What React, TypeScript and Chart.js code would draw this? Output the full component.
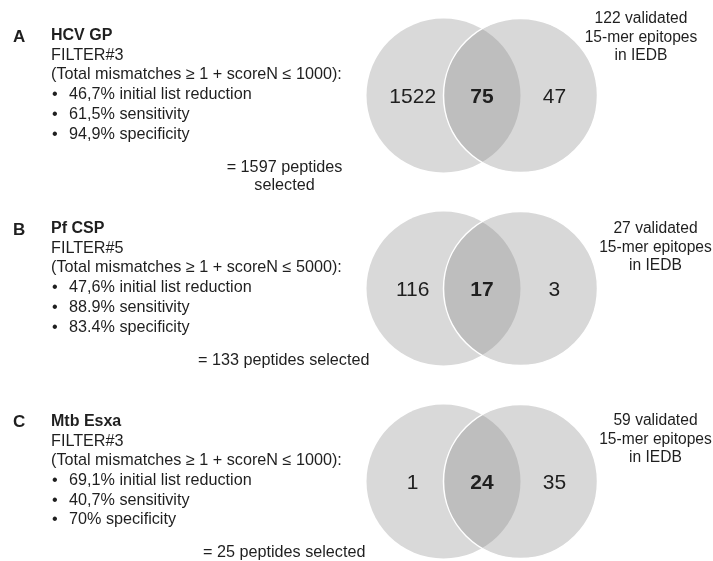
import { useEffect, useRef } from 'react';
import { Chart, registerables } from 'chart.js';

Chart.register(...registerables);

// ---- data ----
const panelLetters = ['A', 'B', 'C'];
const antigens = ['HCV GP', 'Pf CSP', 'Mtb Esxa'];
const filterNames = ['FILTER#3', 'FILTER#5', 'FILTER#3'];
const mismatchMin = [1, 1, 1];
const scoreNMax = [1000, 5000, 1000];
const listReduction = ['46,7%', '47,6%', '69,1%'];
const sensitivity = ['61,5%', '88.9%', '40,7%'];
const specificity = ['94,9%', '83.4%', '70%'];
const selectedOnly = [1522, 116, 1];
const overlap = [75, 17, 24];
const validatedOnly = [47, 3, 35];
const validatedTotal = [122, 27, 59];
const peptidesSelected = [1597, 133, 25];

// ---- layout / style ----
const FONT = '"Liberation Sans", Arial, Helvetica, sans-serif';
const TEXT = '#1f1f1f';
const SET_X = [0, 1]; // centres of the two sets, in set-distance units
const X_MIN = -5.76;
const X_MAX = 3.5;
const Y_MIN = -0.495;
const Y_MAX = 2.412;
const LABEL_X = { left: -0.4, mid: 0.5, right: 1.44 };
const RIGHT_TEXT_X = [641, 655.5, 655.5];
const RIGHT_TEXT_DY = [-72.5, -55.5, -56.5];
const SELECTED_LAYOUT = [
  { x: 284.5, align: 'center', dy: 76.5, split: true },
  { x: 198, align: 'left', dy: 76.5, split: false },
  { x: 203, align: 'left', dy: 75.5, split: false },
];

const unitRadius = (ctx: any) => {
  const s = ctx.chart.scales && ctx.chart.scales.x;
  const v = s ? Math.abs(s.getPixelForValue(1) - s.getPixelForValue(0)) : NaN;
  return isFinite(v) && v > 0 ? v : ctx.chart.width / (X_MAX - X_MIN);
};

const textPlugin = {
  id: 'vennText',
  afterDatasetsDraw(chart: any) {
    const { ctx } = chart;
    const xs = chart.scales.x;
    const ys = chart.scales.y;
    ctx.save();
    ctx.fillStyle = TEXT;
    ctx.textBaseline = 'alphabetic';
    panelLetters.forEach((letter, i) => {
      const cy = ys.getPixelForValue(i);
      // counts in the Venn regions
      ctx.textAlign = 'center';
      ctx.font = `21px ${FONT}`;
      ctx.fillText(String(selectedOnly[i]), xs.getPixelForValue(LABEL_X.left), cy + 7.5);
      ctx.fillText(String(validatedOnly[i]), xs.getPixelForValue(LABEL_X.right), cy + 7.5);
      ctx.font = `bold 21px ${FONT}`;
      ctx.fillText(String(overlap[i]), xs.getPixelForValue(LABEL_X.mid), cy + 7.5);

      // right-hand caption
      ctx.font = `15.6px ${FONT}`;
      const rLines = [`${validatedTotal[i]} validated`, '15-mer epitopes', 'in IEDB'];
      rLines.forEach((l, k) => {
        ctx.fillText(l, RIGHT_TEXT_X[i], cy + RIGHT_TEXT_DY[i] + k * 18.6);
      });

      // left-hand description
      const t = cy - 55.5;
      ctx.textAlign = 'left';
      ctx.font = `bold 17px ${FONT}`;
      ctx.fillText(letter, 13, t + 1.5);
      ctx.font = `bold 16px ${FONT}`;
      ctx.fillText(antigens[i], 51, t);
      ctx.font = `16.2px ${FONT}`;
      ctx.fillText(filterNames[i], 51, t + 19.7);
      ctx.fillText(
        `(Total mismatches \u2265 ${mismatchMin[i]} + scoreN \u2264 ${scoreNMax[i]}):`,
        51,
        t + 39.4
      );
      const bullets = [
        `${listReduction[i]} initial list reduction`,
        `${sensitivity[i]} sensitivity`,
        `${specificity[i]} specificity`,
      ];
      bullets.forEach((b, k) => {
        const y = t + 59.1 + k * 19.7;
        ctx.fillText('\u2022', 52, y);
        ctx.fillText(b, 69, y);
      });

      // selected peptides line
      const sl = SELECTED_LAYOUT[i];
      ctx.textAlign = sl.align;
      const lines = sl.split
        ? [`= ${peptidesSelected[i]} peptides`, 'selected']
        : [`= ${peptidesSelected[i]} peptides selected`];
      lines.forEach((l, k) => ctx.fillText(l, sl.x, cy + sl.dy + k * 18));
    });
    ctx.restore();
  },
};

export default function App() {
  const ref = useRef<HTMLCanvasElement | null>(null);

  useEffect(() => {
    if (!ref.current) return;
    const chart = new Chart(ref.current, {
      type: 'bubble',
      data: {
        datasets: [
          {
            label: 'peptides selected',
            data: panelLetters.map((_, i) => ({ x: SET_X[0], y: i })) as any,
            backgroundColor: '#d9d9d9',
            borderWidth: 0,
            order: 2,
            clip: false,
            radius: unitRadius,
          } as any,
          {
            label: 'validated 15-mer epitopes in IEDB',
            data: panelLetters.map((_, i) => ({ x: SET_X[1], y: i })) as any,
            backgroundColor: 'rgba(135,135,135,0.32)',
            borderColor: '#ffffff',
            borderWidth: 1.5,
            order: 1,
            clip: false,
            radius: unitRadius,
          } as any,
        ],
      },
      options: {
        animation: false,
        responsive: false,
        events: [],
        layout: { padding: 0, autoPadding: false },
        plugins: { legend: { display: false }, tooltip: { enabled: false } },
        scales: {
          x: { type: 'linear', display: false, min: X_MIN, max: X_MAX },
          y: { type: 'linear', display: false, min: Y_MIN, max: Y_MAX, reverse: true },
        },
      } as any,
      plugins: [textPlugin as any],
    });
    return () => chart.destroy();
  }, []);

  return (
    <div style={{ position: 'fixed', left: 0, top: 0, width: 713, height: 561, background: '#fff' }}>
      <canvas ref={ref} width={713} height={561} style={{ display: 'block' }} />
    </div>
  );
}
